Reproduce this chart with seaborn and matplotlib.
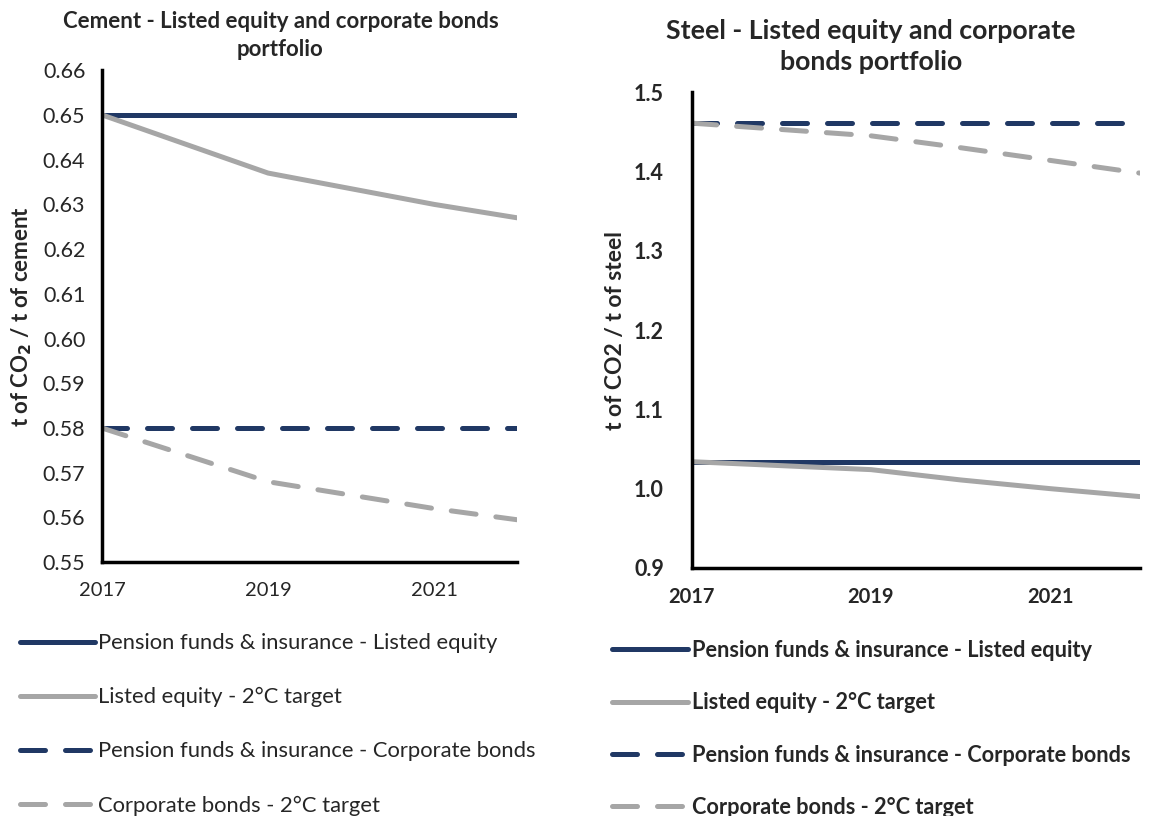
import pandas as pd
import matplotlib.pyplot as plt
import seaborn as sns

# data
years = [2017, 2018, 2019, 2020, 2021, 2022]
series_names = [
    "Pension funds & insurance - Listed equity",
    "Listed equity - 2°C target",
    "Pension funds & insurance - Corporate bonds",
    "Corporate bonds - 2°C target",
]
cement_equity = [0.650, 0.650, 0.650, 0.650, 0.650, 0.650]
cement_equity_target = [0.650, 0.6435, 0.637, 0.6335, 0.630, 0.627]
cement_bonds = [0.580, 0.580, 0.580, 0.580, 0.580, 0.580]
cement_bonds_target = [0.580, 0.574, 0.568, 0.565, 0.562, 0.5595]

steel_equity = [1.034, 1.034, 1.034, 1.034, 1.034, 1.034]
steel_equity_target = [1.034, 1.029, 1.024, 1.011, 1.000, 0.990]
steel_bonds = [1.461, 1.461, 1.461, 1.461, 1.461, 1.461]
steel_bonds_target = [1.461, 1.453, 1.445, 1.430, 1.414, 1.398]

navy = "#203864"
grey = "#A6A6A6"
palette = dict(zip(series_names, [navy, grey, navy, grey]))
dashes = dict(zip(series_names, ["", "", (5, 4), (5, 4)]))


def long_df(vals):
    rows = []
    for name, v in zip(series_names, vals):
        for yr, val in zip(years, v):
            rows.append({"year": yr, "value": val, "series": name})
    return pd.DataFrame(rows)


cement = long_df([cement_equity, cement_equity_target, cement_bonds, cement_bonds_target])
steel = long_df([steel_equity, steel_equity_target, steel_bonds, steel_bonds_target])

sns.set_theme(style="white")
plt.rcParams["font.family"] = ["Lato", "DejaVu Sans"]

fig = plt.figure(figsize=(11.49, 8.16), dpi=100)
ax1 = fig.add_axes([0.0888, 0.311, 0.3612, 0.603])
ax2 = fig.add_axes([0.602, 0.304, 0.390, 0.583])

for ax, df in [(ax1, cement), (ax2, steel)]:
    sns.lineplot(data=df, x="year", y="value", hue="series", style="series",
                 palette=palette, dashes=dashes, linewidth=3.6, ax=ax)
    for l in ax.get_lines():
        l.set_dash_capstyle("round")
        l.set_solid_capstyle("round")
    ax.set_xlim(2017, 2022)
    ax.set_xticks([2017, 2019, 2021])
    for s in ["top", "right"]:
        ax.spines[s].set_visible(False)
    for s in ["left", "bottom"]:
        ax.spines[s].set_color("black")
        ax.spines[s].set_linewidth(2.5)
    ax.tick_params(axis="both", length=0)
    ax.tick_params(axis="x", pad=14)
    ax.set_xlabel("")

# cement panel
ax1.set_ylim(0.55, 0.66)
ax1.set_yticks([0.55, 0.56, 0.57, 0.58, 0.59, 0.60, 0.61, 0.62, 0.63, 0.64, 0.65, 0.66])
ax1.set_yticklabels([f"{v:.2f}" for v in ax1.get_yticks()], fontsize=15.5)
ax1.tick_params(axis="y", pad=12)
ax1.set_xticklabels(["2017", "2019", "2021"], fontsize=14.5)
ax1.set_ylabel("t of CO$_\\mathbf{2}$ / t of cement", fontsize=16, fontweight="bold", labelpad=6)
ax1.set_title("Cement - Listed equity and corporate bonds\nportfolio", fontsize=16,
              fontweight="bold", pad=10, x=0.43, linespacing=1.4)

# steel panel
ax2.set_ylim(0.9, 1.5)
ax2.set_yticks([0.9, 1.0, 1.1, 1.2, 1.3, 1.4, 1.5])
ax2.set_yticklabels([f"{v:.1f}" for v in ax2.get_yticks()], fontsize=15.5, fontweight="bold")
ax2.tick_params(axis="y", pad=20)
ax2.set_xticklabels(["2017", "2019", "2021"], fontsize=14.5, fontweight="bold")
ax2.set_ylabel("t of CO2 / t of steel", fontsize=16.5, fontweight="bold", labelpad=6)
ax2.set_title("Steel - Listed equity and corporate\nbonds portfolio", fontsize=19.3,
              fontweight="bold", pad=16, x=0.40, linespacing=1.37)

# legends under each panel
h1, l1 = ax1.get_legend_handles_labels()
ax1.legend(h1, l1, loc="upper left", bbox_to_anchor=(0.0174, 0.224), bbox_transform=fig.transFigure,
           frameon=False, fontsize=15.8, borderpad=0, borderaxespad=0,
           handlelength=3.4, handletextpad=0.15, labelspacing=1.55)
h2, l2 = ax2.get_legend_handles_labels()
ax2.legend(h2, l2, loc="upper left", bbox_to_anchor=(0.5326, 0.216), bbox_transform=fig.transFigure,
           frameon=False, borderpad=0, borderaxespad=0,
           handlelength=3.5, handletextpad=0.15, labelspacing=1.44,
           prop={"weight": "bold", "size": 15.7})
for leg in [ax1.get_legend(), ax2.get_legend()]:
    for line in leg.get_lines():
        line.set_linewidth(3.6)

fig.savefig("out.png", dpi=100)
